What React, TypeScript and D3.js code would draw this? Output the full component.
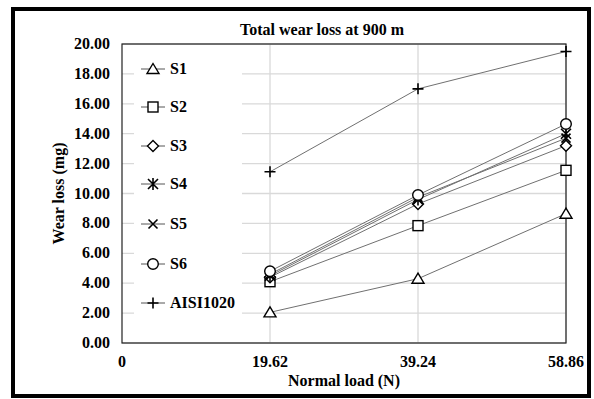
import React from "react";
import * as d3 from "d3";

const loads = [19.62, 39.24, 58.86];
const xTicks = [0, 19.62, 39.24, 58.86];
const yTicks = [0, 2, 4, 6, 8, 10, 12, 14, 16, 18, 20];
const seriesNames = ["S1", "S2", "S3", "S4", "S5", "S6", "AISI1020"];
const markerKinds = ["triangle", "square", "diamond", "star", "x", "circle", "plus"];
const S1 = [2.05, 4.3, 8.65];
const S2 = [4.1, 7.85, 11.55];
const S3 = [4.4, 9.3, 13.2];
const S4 = [4.5, 9.6, 14.0];
const S5 = [4.6, 9.75, 13.7];
const S6 = [4.8, 9.9, 14.65];
const AISI = [11.45, 17.0, 19.5];
const seriesValues = [S1, S2, S3, S4, S5, S6, AISI];

const W = 594, H = 399;
const L = 122, R = 566, T = 44, B = 343;
const FONT = "Liberation Serif";
const FS = 16;

function Marker({ kind, x, y }: { kind: string; x: number; y: number }) {
  const s = { stroke: "#000", strokeWidth: 1.4, fill: "#fff" } as any;
  const r = 5;
  switch (kind) {
    case "triangle":
      return <path d={`M${x},${y - 5.5}L${x + 6},${y + 4.5}L${x - 6},${y + 4.5}Z`} {...s} />;
    case "square":
      return <rect x={x - 5} y={y - 5} width={10} height={10} {...s} />;
    case "diamond":
      return <path d={`M${x},${y - 5.5}L${x + 5.5},${y}L${x},${y + 5.5}L${x - 5.5},${y}Z`} {...s} />;
    case "star":
      return (
        <path
          d={`M${x - r},${y - r}L${x + r},${y + r}M${x + r},${y - r}L${x - r},${y + r}M${x},${y - r - 1}L${x},${y + r + 1}`}
          stroke="#000" strokeWidth={1.6} fill="none" />
      );
    case "x":
      return (
        <path d={`M${x - 4.5},${y - 4.5}L${x + 4.5},${y + 4.5}M${x + 4.5},${y - 4.5}L${x - 4.5},${y + 4.5}`}
          stroke="#000" strokeWidth={1.6} fill="none" />
      );
    case "circle":
      return <circle cx={x} cy={y} r={5.3} {...s} />;
    case "plus":
      return (
        <path d={`M${x - 5.5},${y}L${x + 5.5},${y}M${x},${y - 5.5}L${x},${y + 5.5}`}
          stroke="#000" strokeWidth={1.6} fill="none" />
      );
  }
  return null;
}

export default function App() {
  const x = d3.scaleLinear().domain([0, 58.86]).range([L, R]);
  const y = d3.scaleLinear().domain([0, 20]).range([B, T]);
  const line = d3.line<number>().x((_, i) => x(loads[i])).y((v) => y(v));
  const legendY = [69, 107, 146, 184, 224, 264, 303];

  return (
    <svg width={W} height={H} style={{ position: "absolute", left: 0, top: 0, background: "#fff", fontFamily: FONT }}>
      <rect x={0} y={0} width={W} height={H} fill="#fff" />
      <rect x={13} y={9} width={576} height={387} fill="none" stroke="#000" strokeWidth={4} />
      <text x={322} y={35} textAnchor="middle" fontSize={FS} fontWeight="bold">Total wear loss at 900 m</text>

      {yTicks.map((t) => (
        <line key={"gy" + t} x1={L} x2={R} y1={y(t)} y2={y(t)} stroke="#d9d9d9" strokeWidth={1.3} />
      ))}
      {xTicks.slice(1).map((t) => (
        <line key={"gx" + t} x1={x(t)} x2={x(t)} y1={T} y2={B} stroke="#d9d9d9" strokeWidth={1.3} />
      ))}
      <rect x={L} y={T} width={R - L} height={B - T} fill="none" stroke="#222" strokeWidth={1.2} />

      {yTicks.map((t) => (
        <text key={"ty" + t} x={110} y={y(t) + 5} textAnchor="end" fontSize={FS} fontWeight="bold">
          {d3.format(".2f")(t)}
        </text>
      ))}
      {xTicks.map((t) => (
        <text key={"tx" + t} x={x(t)} y={367} textAnchor="middle" fontSize={FS} fontWeight="bold">
          {t === 0 ? "0" : d3.format(".2f")(t)}
        </text>
      ))}
      <text x={344} y={386} textAnchor="middle" fontSize={FS} fontWeight="bold">Normal load (N)</text>
      <text transform={`translate(64,${(T + B) / 2}) rotate(-90)`} textAnchor="middle" fontSize={FS} fontWeight="bold">
        Wear loss (mg)
      </text>

      {/* legend */}
      <rect x={134} y={55} width={108} height={262} fill="#fff" />
      {seriesNames.map((n, i) => (
        <g key={"lg" + n}>
          <line x1={141} x2={165} y1={legendY[i]} y2={legendY[i]} stroke="#555" strokeWidth={1} />
          <Marker kind={markerKinds[i]} x={153} y={legendY[i]} />
          <text x={170} y={legendY[i] + 5} fontSize={FS} fontWeight="bold">{n}</text>
        </g>
      ))}

      {seriesValues.map((vals, i) => (
        <path key={"ln" + i} d={line(vals) || ""} fill="none" stroke="#707070" strokeWidth={1} />
      ))}
      {seriesValues.map((vals, i) =>
        vals.map((v, j) => <Marker key={`m${i}-${j}`} kind={markerKinds[i]} x={x(loads[j])} y={y(v)} />)
      )}
    </svg>
  );
}
